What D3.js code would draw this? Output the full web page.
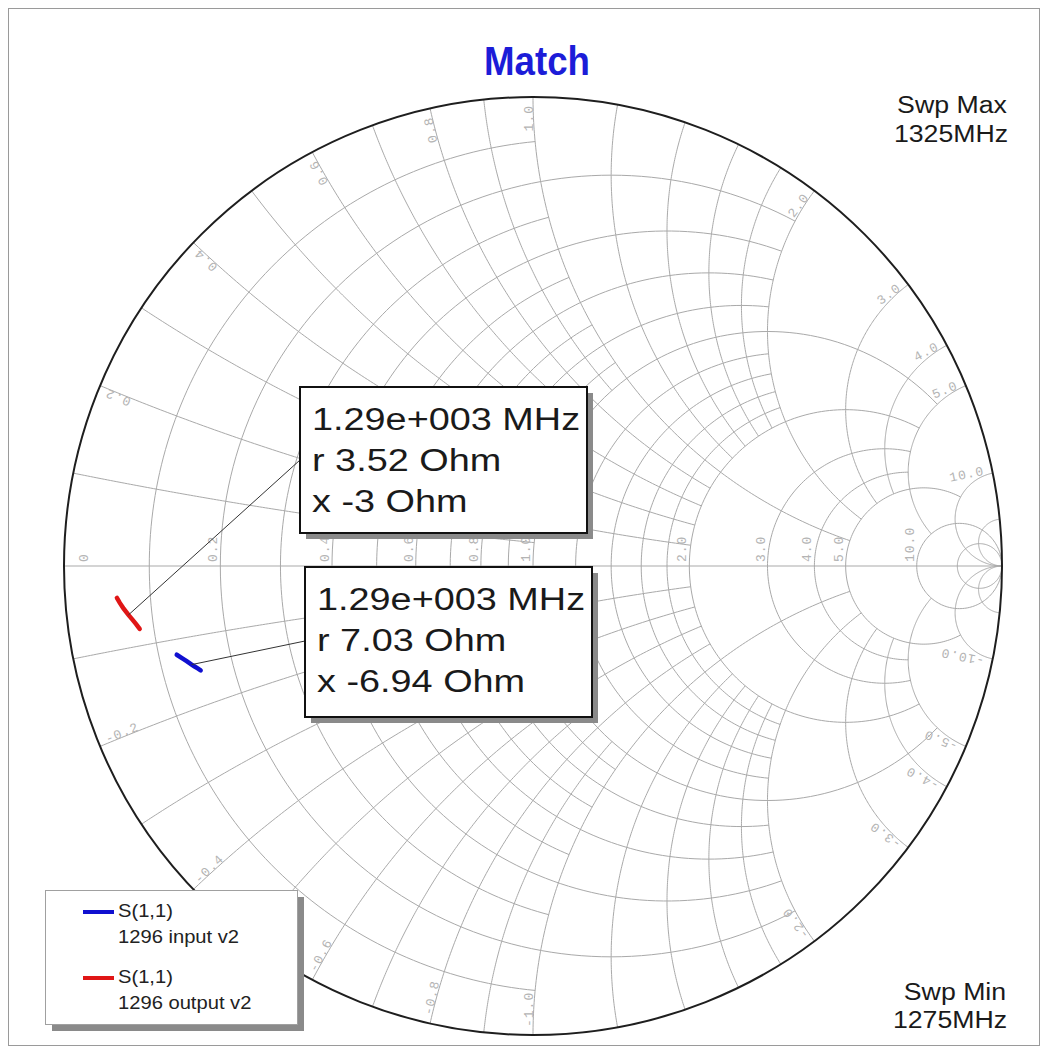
<!DOCTYPE html>
<html>
<head>
<meta charset="utf-8">
<script src="https://cdn.jsdelivr.net/npm/d3@7"></script>
<style>
  body { margin: 0; background: #fff; }
  svg { display: block; }
</style>
</head>
<body>
<svg id="chart" width="1047" height="1060"></svg>
<script>
// ---- Sweep data: impedance in ohms, reference Z0 = 50 ohm ----
const z0 = 50;
const freqsMHz  = [1275, 1280, 1285, 1290, 1300, 1310, 1325];
const inputR    = [7.55, 7.38, 7.20, 7.03, 6.75, 6.48, 6.18];
const inputX    = [-7.50, -7.31, -7.12, -6.94, -6.62, -6.34, -6.04];
const outputR   = [4.10, 3.92, 3.72, 3.52, 3.25, 3.07, 2.92];
const outputX   = [-3.95, -3.62, -3.30, -3.00, -2.55, -2.22, -1.91];
const markerMHz = 1290;
const sweepMin = 1275, sweepMax = 1325;

// ---- Smith grid: normalised value and the extent of each arc ----
// resistance circles: [r, |x| limit]
const resistanceArcs = [
  [0.1, 1], [0.2, 2], [0.3, 1], [0.4, 2], [0.5, 1], [0.6, 2], [0.7, 1], [0.8, 2], [0.9, 1],
  [1.0, 5], [1.2, 2], [1.4, 2], [1.6, 2], [1.8, 2], [2.0, 5], [3.0, 5], [4.0, 5],
  [5.0, 10], [10, Infinity], [20, Infinity]
];
// reactance arcs: [x, r limit] (drawn for +x and -x)
const reactanceArcs = [
  [0.1, 1], [0.2, 2], [0.3, 1], [0.4, 2], [0.5, 1], [0.6, 2], [0.7, 1], [0.8, 2], [0.9, 1],
  [1.0, 5], [1.2, 2], [1.4, 2], [1.6, 2], [1.8, 2], [2.0, 5], [3.0, 5], [4.0, 5],
  [5.0, 10], [10, Infinity], [20, Infinity]
];
const axisLabels = [0, 0.2, 0.4, 0.6, 0.8, 1.0, 2.0, 3.0, 4.0, 5.0, 10.0];
const rimLabels  = [0.2, 0.4, 0.6, 0.8, 1.0, 2.0, 3.0, 4.0, 5.0, 10.0];

// ---- layout ----
const cx = 533, cy = 566, R = 469;
const svg = d3.select("#chart");
const sx = d3.scaleLinear().domain([-1, 1]).range([cx - R, cx + R]);
const sy = d3.scaleLinear().domain([-1, 1]).range([cy + R, cy - R]);
const line = d3.line().x(d => sx(d[0])).y(d => sy(d[1]));
const SANS = "Liberation Sans, Arial, sans-serif";

// widen a text element horizontally by a factor (the plot's text runs wide)
function stretch(sel, k) {
  sel.each(function () {
    const w = this.getComputedTextLength();
    d3.select(this).attr("textLength", w * k).attr("lengthAdjust", "spacingAndGlyphs");
  });
  return sel;
}

// reflection coefficient of normalised impedance r + jx
function gamma(r, x) {
  if (!isFinite(r) || !isFinite(x)) return [1, 0];
  const den = (r + 1) * (r + 1) + x * x;
  return [(r * r - 1 + x * x) / den, (2 * x) / den];
}
const norm = a => (a < 0 ? a + 2 * Math.PI : a);

function resistancePath(r, x1, x2) {
  const c = r / (1 + r), rho = 1 / (1 + r);
  const phi = x => {
    if (x === Infinity) return 0;
    if (x === -Infinity) return 2 * Math.PI;
    const g = gamma(r, x);
    return norm(Math.atan2(g[1], g[0] - c));
  };
  const a0 = phi(x2), a1 = phi(x1), n = 160;
  return d3.range(n + 1).map(i => {
    const a = a0 + (a1 - a0) * i / n;
    return [c + rho * Math.cos(a), rho * Math.sin(a)];
  });
}
function reactancePath(x, r1, r2) {
  const ky = 1 / x, rho = Math.abs(1 / x);
  const psi = r => {
    const g = gamma(r, x);
    return norm(Math.atan2(g[1] - ky, g[0] - 1));
  };
  const a0 = psi(r1), a1 = psi(r2), n = 160;
  return d3.range(n + 1).map(i => {
    const a = a0 + (a1 - a0) * i / n;
    return [1 + rho * Math.cos(a), ky + rho * Math.sin(a)];
  });
}

// ---- page frame ----
svg.append("rect").attr("x", 8.5).attr("y", 8.5).attr("width", 1031).attr("height", 1037)
  .attr("fill", "#fff").attr("stroke", "#9a9a9a").attr("stroke-width", 1);

// ---- title ----
svg.append("text").attr("x", 537).attr("y", 75).attr("text-anchor", "middle")
  .attr("font-family", SANS).attr("font-weight", "bold")
  .attr("font-size", 40).attr("fill", "#1c1cd8")
  .attr("textLength", 106).attr("lengthAdjust", "spacingAndGlyphs")
  .text("Match");

// ---- grid ----
const grid = svg.append("g").attr("fill", "none").attr("stroke", "#a9a9a9").attr("stroke-width", 1);
resistanceArcs.forEach(([r, xm]) => {
  grid.append("path").attr("d", line(resistancePath(r, -xm, xm)));
});
reactanceArcs.forEach(([x, rm]) => {
  grid.append("path").attr("d", line(reactancePath(x, 0, rm)));
  grid.append("path").attr("d", line(reactancePath(-x, 0, rm)));
});
grid.append("path").attr("d", line([[-1, 0], [1, 0]]));

// outer boundary (r = 0)
svg.append("circle").attr("cx", sx(0)).attr("cy", sy(0)).attr("r", sx(1) - sx(0))
  .attr("fill", "none").attr("stroke", "#1e1e1e").attr("stroke-width", 2);

// ---- grid labels ----
const lab = svg.append("g").attr("font-family", "Liberation Mono, DejaVu Sans Mono, monospace")
  .attr("font-size", 13).attr("fill", "#b4b4b4");
axisLabels.forEach(v => {
  const g = gamma(v, 0);
  const px = v === 0 ? cx - R + 24 : sx(g[0]) - 3;
  lab.append("text").attr("transform", `translate(${px},${cy - 4}) rotate(-90)`)
    .attr("letter-spacing", 1).text(v === 0 ? "0" : v.toFixed(1));
});
rimLabels.forEach(v => {
  [v, -v].forEach(x => {
    const g = gamma(0, x);
    const th = Math.atan2(g[1], g[0]);             // angle on the rim
    const rho = R - 8;
    const px = cx + rho * Math.cos(th), py = cy - rho * Math.sin(th);
    const deg = -th * 180 / Math.PI;
    const rot = x > 0 ? deg : 180 + deg;
    lab.append("text").attr("transform", `translate(${px},${py}) rotate(${rot})`)
      .attr("text-anchor", x > 0 ? "end" : "start").attr("letter-spacing", 1)
      .text(x.toFixed(1));
  });
});

// ---- traces ----
const toPts = (rs, xs) => rs.map((r, i) => gamma(r / z0, xs[i] / z0));
const mi = freqsMHz.indexOf(markerMHz);
const series = [
  { name: "1296 input v2",  color: "#1010d0", pts: toPts(inputR, inputX),
    mk: [inputR[mi], inputX[mi]], box: { x: 305, y: 567, w: 287, h: 150 }, lead: [305, 641] },
  { name: "1296 output v2", color: "#e01616", pts: toPts(outputR, outputX),
    mk: [outputR[mi], outputX[mi]], box: { x: 300, y: 387, w: 287, h: 146 }, lead: [300, 460] }
];
series.forEach(s => {
  svg.append("path").attr("d", line(s.pts)).attr("fill", "none")
    .attr("stroke", s.color).attr("stroke-width", 4.5).attr("stroke-linecap", "round");
});

// ---- marker callouts ----
const fmtMHz = f => (f / 1000).toFixed(2) + "e+003 MHz";
const fmtOhm = v => String(+v.toPrecision(3));
series.forEach(s => {
  const g = gamma(s.mk[0] / z0, s.mk[1] / z0);
  svg.append("line").attr("x1", sx(g[0])).attr("y1", sy(g[1]))
    .attr("x2", s.lead[0]).attr("y2", s.lead[1]).attr("stroke", "#333").attr("stroke-width", 1);
  const b = s.box;
  svg.append("rect").attr("x", b.x + 6).attr("y", b.y + 6).attr("width", b.w).attr("height", b.h)
    .attr("fill", "#8a8a8a");
  svg.append("rect").attr("x", b.x).attr("y", b.y).attr("width", b.w).attr("height", b.h)
    .attr("fill", "#fff").attr("stroke", "#111").attr("stroke-width", 2);
  const lines = [fmtMHz(markerMHz), "r " + fmtOhm(s.mk[0]) + " Ohm", "x " + fmtOhm(s.mk[1]) + " Ohm"];
  lines.forEach((t, i) => {
    stretch(svg.append("text").attr("x", b.x + 12).attr("y", b.y + 43 + i * 41)
      .attr("font-family", SANS).attr("font-size", 31).attr("fill", "#1a1a1a")
      .text(t), 1.22);
  });
});

// ---- sweep range notes ----
const note = svg.append("g").attr("font-family", SANS)
  .attr("font-size", 23).attr("fill", "#1a1a1a").attr("text-anchor", "middle");
stretch(note.append("text").attr("x", 952).attr("y", 113).text("Swp Max"), 1.16);
stretch(note.append("text").attr("x", 951).attr("y", 142).text(sweepMax + "MHz"), 1.16);
stretch(note.append("text").attr("x", 955).attr("y", 1000).text("Swp Min"), 1.16);
stretch(note.append("text").attr("x", 950).attr("y", 1028).text(sweepMin + "MHz"), 1.16);

// ---- legend ----
svg.append("rect").attr("x", 52).attr("y", 897).attr("width", 252).attr("height", 134).attr("fill", "#8a8a8a");
svg.append("rect").attr("x", 45.5).attr("y", 890.5).attr("width", 252).attr("height", 134)
  .attr("fill", "#fff").attr("stroke", "#a0a0a0").attr("stroke-width", 1);
series.forEach((s, i) => {
  const y0 = 912 + i * 66;
  svg.append("line").attr("x1", 83).attr("x2", 114).attr("y1", y0).attr("y2", y0)
    .attr("stroke", s.color).attr("stroke-width", 4);
  const t = svg.append("g").attr("font-family", SANS).attr("font-size", 18).attr("fill", "#222");
  stretch(t.append("text").attr("x", 118).attr("y", y0 + 5).text("S(1,1)"), 1.12);
  stretch(t.append("text").attr("x", 118).attr("y", y0 + 31).text(s.name), 1.12);
});
</script>
</body>
</html>
